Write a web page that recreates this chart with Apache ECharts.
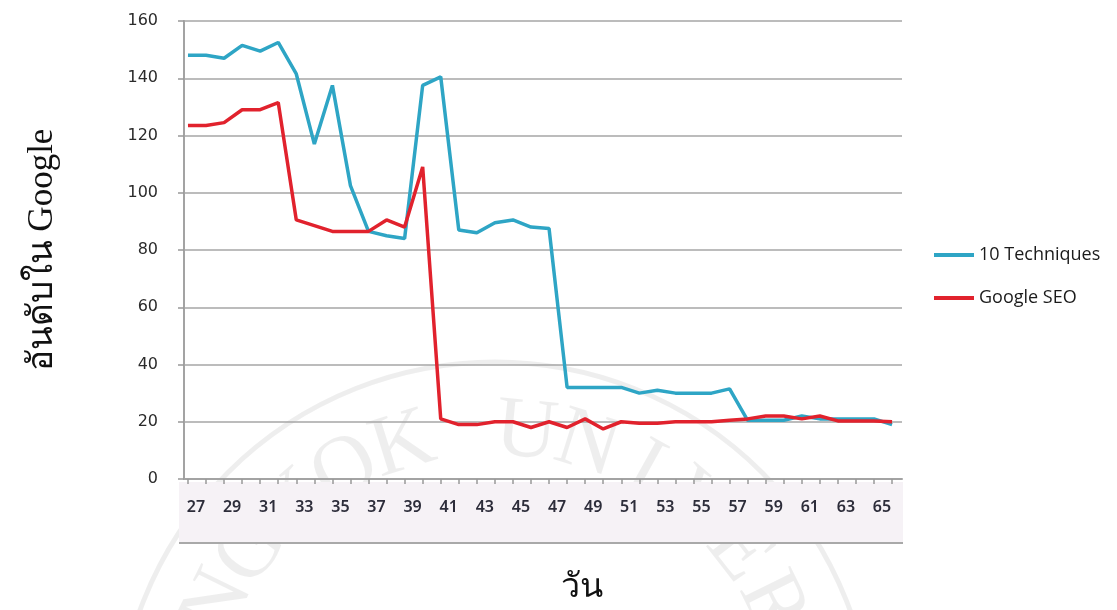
<!DOCTYPE html>
<html>
<head>
<meta charset="utf-8">
<script src="https://cdn.jsdelivr.net/npm/echarts@6/dist/echarts.min.js"></script>
<style>
  html, body { margin: 0; padding: 0; background: #ffffff; }
  #chart { width: 1117px; height: 610px; }
</style>
</head>
<body>
<div id="chart"></div>
<script>
// Day numbers on the x axis
const days = [27, 28, 29, 30, 31, 32, 33, 34, 35, 36, 37, 38, 39, 40, 41, 42, 43, 44, 45, 46,
              47, 48, 49, 50, 51, 52, 53, 54, 55, 56, 57, 58, 59, 60, 61, 62, 63, 64, 65, 66];

// Google rank per day for each keyword set
const tenTechniques = [148, 148, 147, 151.5, 149.5, 152.5, 141.5, 117, 137.5, 102.5,
                       86.5, 85, 84, 137.5, 140.5, 87, 86, 89.5, 90.5, 88,
                       87.5, 32, 32, 32, 32, 30, 31, 30, 30, 30,
                       31.5, 20.5, 20.5, 20.5, 22, 21, 21, 21, 21, 19];
const googleSeo = [123.5, 123.5, 124.5, 129, 129, 131.5, 90.5, 88.5, 86.5, 86.5,
                   86.5, 90.5, 88, 109, 21, 19, 19, 20, 20, 18,
                   20, 18, 21, 17.5, 20, 19.5, 19.5, 20, 20, 20,
                   20.5, 21, 22, 22, 21, 22, 20.3, 20.3, 20.3, 20];

// Labelled days under the axis
const dayLabels = [27, 29, 31, 33, 35, 37, 39, 41, 43, 45, 47, 49, 51, 53, 55, 57, 59, 61, 63, 65];

const seriesNames = ['10 Techniques', 'Google SEO'];
const seriesColors = ['#2ea5c5', '#e1222d'];

// Faint seal in the page background
const sealText = 'BANGKOK UNIVERSITY';
const sealCx = 495, sealCy = 740, sealR = 378, letterR = 308;
const sealStep = 11.6;            // degrees between letters
const sealStart = -87;            // angle of the first letter, clockwise from top
const sealLetters = [];
for (let i = 0; i < sealText.length; i++) {
  const ch = sealText[i];
  if (ch === ' ') continue;
  const a = (sealStart + i * sealStep) * Math.PI / 180;
  sealLetters.push({
    type: 'text',
    z: -5,
    silent: true,
    x: sealCx + letterR * Math.sin(a),
    y: sealCy - letterR * Math.cos(a),
    rotation: -a,
    style: {
      text: ch,
      font: '86px "Liberation Serif", serif',
      fill: 'rgba(0,0,0,0.065)',
      align: 'center',
      verticalAlign: 'middle'
    }
  });
}

const chart = echarts.init(document.getElementById('chart'), null, { renderer: 'canvas' });

chart.setOption({
  backgroundColor: '#ffffff',
  animation: false,
  color: seriesColors,
  grid: { left: 184, right: 215, top: 21, bottom: 129, containLabel: false },
  graphic: [
    {
      type: 'circle',
      z: -6,
      silent: true,
      shape: { cx: sealCx, cy: sealCy, r: sealR },
      style: { fill: null, stroke: 'rgba(0,0,0,0.065)', lineWidth: 5 }
    },
    ...sealLetters,
    {
      type: 'rect',
      z: -4,
      silent: true,
      shape: { x: 179, y: 482, width: 724, height: 61 },
      style: { fill: '#f6f2f6' }
    },
    {
      type: 'line',
      z: -4,
      silent: true,
      shape: { x1: 179, y1: 543, x2: 903, y2: 543 },
      style: { stroke: '#a9a9a9', lineWidth: 2 }
    }
  ],
  legend: {
    orient: 'vertical',
    left: 929,
    top: 240,
    icon: 'rect',
    itemWidth: 40,
    itemHeight: 4,
    itemGap: 23,
    data: seriesNames,
    textStyle: { fontFamily: '"Open Sans", sans-serif', fontSize: 18, color: '#1b1b1b', lineHeight: 20 }
  },
  xAxis: {
    type: 'value',
    min: 26.78,
    max: 66.55,
    name: 'วัน',
    nameLocation: 'middle',
    nameGap: 92,
    nameTextStyle: {
      fontFamily: '"Liberation Serif", serif',
      fontSize: 34,
      color: '#111111',
      padding: [0, 0, 0, 78]
    },
    axisLine: { show: true, lineStyle: { color: '#a3a3a3', width: 2 } },
    axisTick: {
      show: true,
      customValues: days,
      length: 5,
      lineStyle: { color: '#999999', width: 1.5 }
    },
    axisLabel: {
      customValues: dayLabels,
      margin: 20,
      fontFamily: '"Noto Sans", sans-serif',
      fontSize: 16,
      fontWeight: 600,
      color: '#2d2d3a',
      padding: [0, 0, 0, 16]
    },
    splitLine: { show: false }
  },
  yAxis: {
    type: 'value',
    min: 0,
    max: 160,
    interval: 20,
    name: 'อันดับใน Google',
    nameLocation: 'middle',
    nameRotate: 90,
    nameGap: 124,
    nameTextStyle: { fontFamily: '"Liberation Serif", serif', fontSize: 35, color: '#111111' },
    axisLine: { show: true, lineStyle: { color: '#a3a3a3', width: 2 } },
    axisTick: { show: true, length: 6, lineStyle: { color: '#999999', width: 1.5 } },
    axisLabel: {
      margin: 26,
      fontFamily: '"DejaVu Sans", sans-serif',
      fontSize: 16,
      color: '#2b2b2b'
    },
    splitLine: { show: true, lineStyle: { color: '#a6a6a6', width: 1.5 } }
  },
  series: [
    {
      name: seriesNames[0],
      type: 'line',
      data: days.map((d, i) => [d, tenTechniques[i]]),
      showSymbol: false,
      symbol: 'none',
      lineStyle: { width: 3.5, color: seriesColors[0] },
      itemStyle: { color: seriesColors[0] },
      z: 2
    },
    {
      name: seriesNames[1],
      type: 'line',
      data: days.map((d, i) => [d, googleSeo[i]]),
      showSymbol: false,
      symbol: 'none',
      lineStyle: { width: 3.5, color: seriesColors[1] },
      itemStyle: { color: seriesColors[1] },
      z: 3
    }
  ]
});
</script>
</body>
</html>
